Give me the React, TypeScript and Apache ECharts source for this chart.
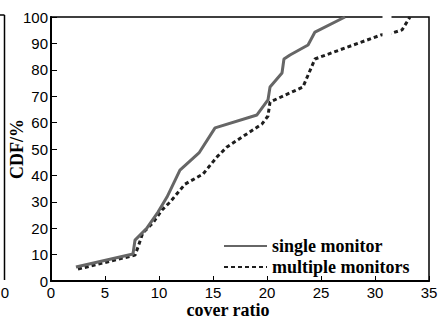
import React, { useEffect, useRef } from "react";
import * as echarts from "echarts";

const seriesNames = ["single monitor", "multiple monitors"];

const singleX = [2.31, 7.59, 7.78, 8.89, 9.91, 10.74, 11.94, 13.7, 15.19, 19.07, 20.09, 20.28, 21.39, 21.57, 22.13, 23.8, 24.44, 27.22];
const singleY = [5.3, 10.2, 15.5, 20.1, 26.1, 31.8, 42.0, 48.5, 58.0, 62.9, 68.6, 73.5, 78.8, 84.1, 85.6, 89.4, 94.3, 100];

const multiX = [2.5, 7.78, 8.06, 8.5, 9.44, 10.28, 11.02, 12.41, 14.07, 15.37, 16.3, 19.54, 20.09, 20.28, 23.33, 24.44, 24.9, 30.56, 31.57, 32.5, 33.24];
const multiY = [4.5, 9.8, 12.9, 18.2, 22.0, 26.9, 29.9, 36.7, 40.5, 47.0, 50.8, 59.5, 62.5, 67.8, 73.5, 84.1, 84.8, 93.2, 93.9, 95.1, 100];

const xTicks = { min: 0, max: 35, interval: 5 };
const yTicks = { min: 0, max: 100, interval: 10 };

const sans = "Arial, 'Liberation Sans', sans-serif";
const serif = "'Times New Roman', 'Liberation Serif', serif";

export default function App() {
  const ref = useRef<HTMLDivElement>(null);
  useEffect(() => {
    if (!ref.current) return;
    const chart = echarts.init(ref.current, null, { renderer: "svg" });
    const zip = (xs: number[], ys: number[]) => xs.map((x, i) => [x, ys[i]]);
    chart.setOption({
      animation: false,
      backgroundColor: "#fff",
      grid: {
        left: 51,
        right: 10,
        top: 17,
        bottom: 38,
        containLabel: false,
        outerBoundsMode: "none",
        show: true,
        borderColor: "#000",
        borderWidth: 1.5,
      },
      legend: {
        orient: "vertical",
        left: 218,
        top: 232,
        itemWidth: 43,
        itemHeight: 18,
        itemGap: 3,
        itemStyle: { opacity: 0, borderWidth: 0 },
        textStyle: { fontFamily: serif, fontWeight: "bold", fontSize: 18, color: "#000" },
        data: seriesNames,
      },
      xAxis: {
        type: "value",
        min: xTicks.min,
        max: xTicks.max,
        interval: xTicks.interval,
        name: "cover ratio",
        nameLocation: "middle",
        nameGap: 21,
        nameMoveOverlap: false,
        nameTextStyle: { fontFamily: serif, fontWeight: "bold", fontSize: 18, lineHeight: 16, color: "#000", padding: [0, 24, 0, 0] },
        axisLine: { show: true, lineStyle: { color: "#000", width: 2 } },
        axisTick: { show: true, inside: true, length: 5, lineStyle: { color: "#000", width: 1 } },
        axisLabel: { fontFamily: sans, fontSize: 15, lineHeight: 15, color: "#000", margin: 4 },
        splitLine: { show: false },
      },
      yAxis: {
        type: "value",
        min: yTicks.min,
        max: yTicks.max,
        interval: yTicks.interval,
        name: "CDF/%",
        nameLocation: "middle",
        nameGap: 25,
        nameMoveOverlap: false,
        nameTextStyle: { fontFamily: serif, fontWeight: "bold", fontSize: 18, color: "#000" },
        axisLine: { show: true, lineStyle: { color: "#000", width: 2 } },
        axisTick: { show: true, inside: true, length: 6, lineStyle: { color: "#000", width: 1 } },
        axisLabel: { fontFamily: sans, fontSize: 15, color: "#000", margin: 3 },
        splitLine: { show: false },
      },
      series: [
        {
          name: seriesNames[0],
          type: "line",
          symbol: "none",
          data: zip(singleX, singleY),
          lineStyle: { color: "#666", width: 3 },
          itemStyle: { color: "#666" },
          z: 3,
        },
        {
          name: seriesNames[1],
          type: "line",
          symbol: "none",
          data: zip(multiX, multiY),
          lineStyle: { color: "#1e1e1e", width: 3, type: [4, 3] },
          itemStyle: { color: "#1e1e1e" },
          z: 2,
        },
      ],
      graphic: [
        { type: "rect", shape: { x: 382.5, y: 12, width: 9, height: 27 }, style: { fill: "#fff" }, z: 100 },
        { type: "line", shape: { x1: 4.5, y1: 15, x2: 4.5, y2: 280 }, style: { stroke: "#000", lineWidth: 1.5 } },
        { type: "line", shape: { x1: 0, y1: 15, x2: 4.5, y2: 15 }, style: { stroke: "#000", lineWidth: 1.5 } },
        { type: "text", x: 5, y: 292.5, style: { text: "0", font: `15px ${sans}`, fill: "#000", align: "center", verticalAlign: "middle" } },
      ],
    });
    return () => chart.dispose();
  }, []);
  return <div ref={ref} style={{ position: "absolute", left: 0, top: 0, width: 439, height: 319 }} />;
}
